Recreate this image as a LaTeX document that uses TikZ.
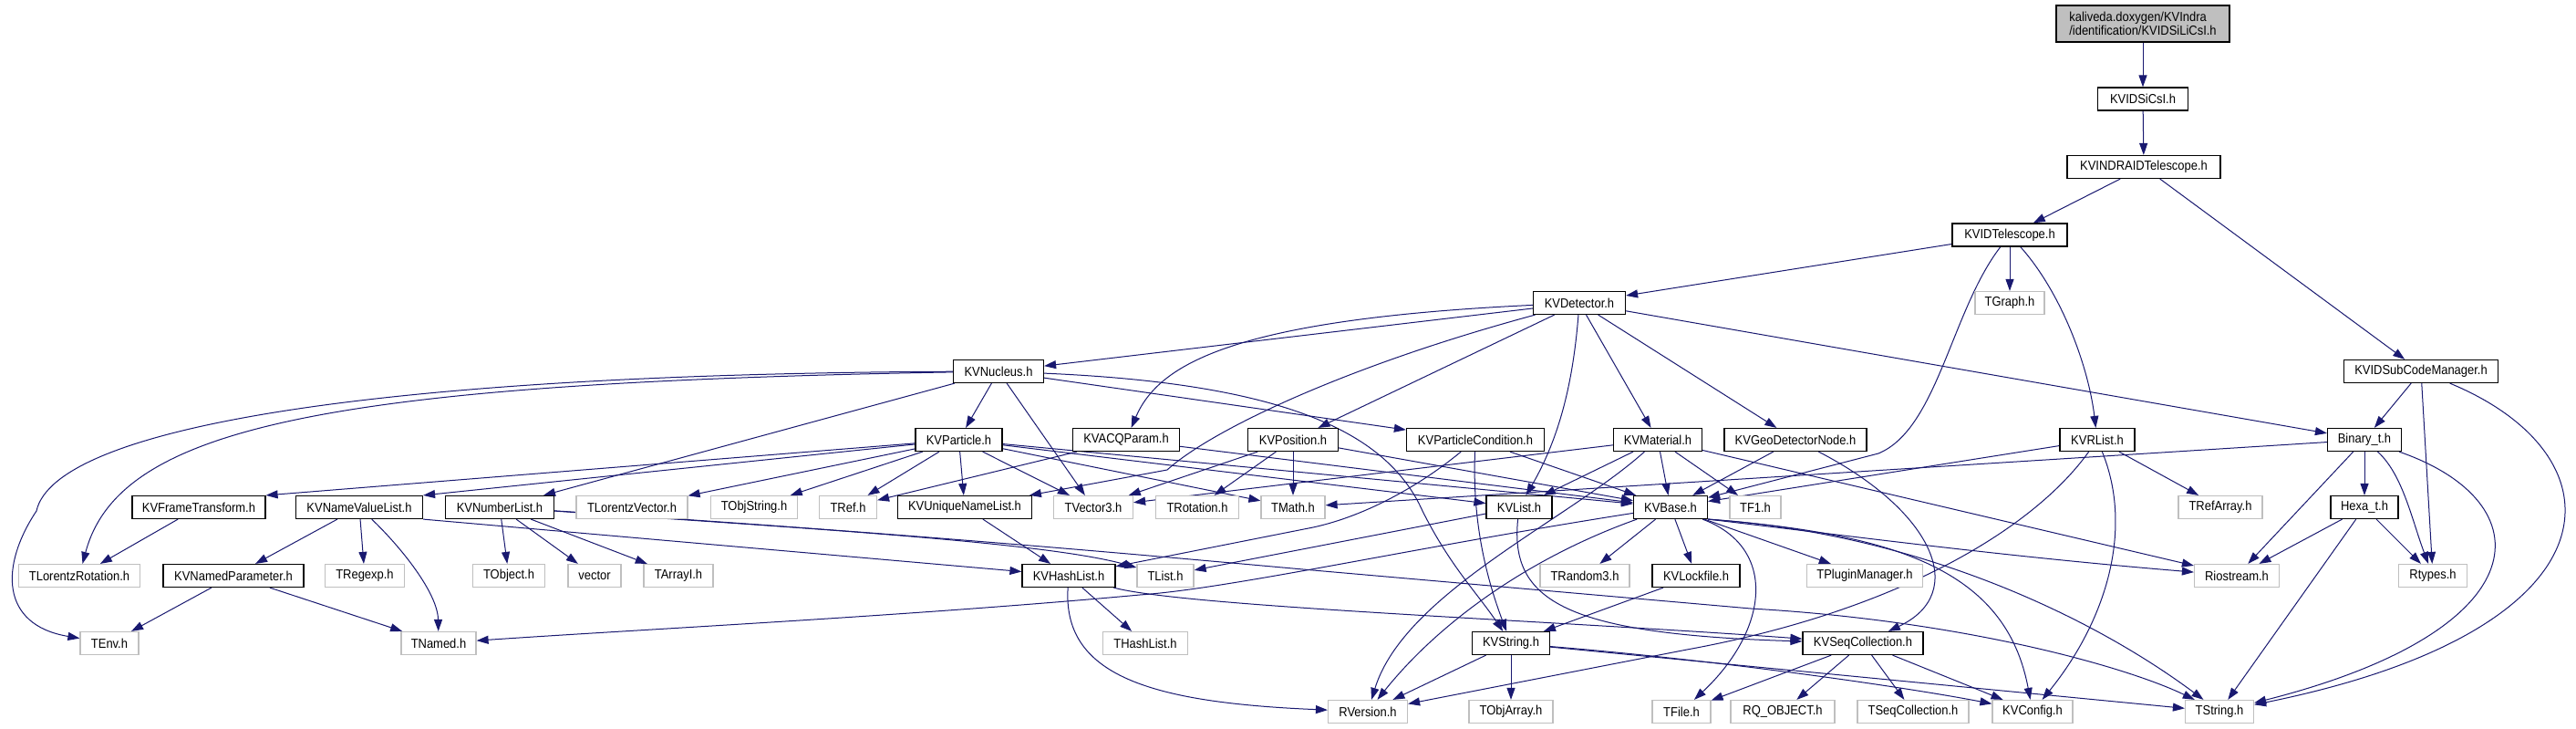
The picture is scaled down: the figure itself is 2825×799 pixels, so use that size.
\documentclass[tikz,border=0pt]{standalone}
\usepackage{fontspec}
\setmainfont{Liberation Sans}[FakeStretch=0.9]
\usetikzlibrary{arrows.meta,backgrounds}
\definecolor{edgeblue}{HTML}{191970}
\definecolor{boxgray}{HTML}{BFBFBF}
\definecolor{rootfill}{HTML}{BFBFBF}
\begin{document}
\begin{tikzpicture}[x=1pt,y=-1pt,
  box/.style={font=\fontsize{14.4}{15}\selectfont, minimum height=25pt, inner sep=0pt, fill=white, line width=1.2pt},
  docbox/.style={box, draw=black},
  extbox/.style={box, draw=boxgray},
  dep/.style={draw=edgeblue, line width=1pt, -{Triangle[length=13pt,width=9pt]}},
  w/.style={minimum width=#1pt}]
\useasboundingbox (0,0) rectangle (2825,799);

% row 0-5
\node[docbox, minimum width=190pt, minimum height=40pt, fill=rootfill, align=left] (root) at (2350,26) {kaliveda.doxygen/KVIndra\\/identification/KVIDSiLiCsI.h};
\node[docbox, w=99] (sicsi) at (2350,108.5) {KVIDSiCsI.h};
\node[docbox, w=168] (indra) at (2351,183) {KVINDRAIDTelescope.h};
\node[docbox, w=126] (idtel) at (2204,257.5) {KVIDTelescope.h};
\node[docbox, w=101] (det) at (1732,332) {KVDetector.h};
\node[extbox, w=76] (tgraph) at (2204,332) {TGraph.h};
\node[docbox, w=99] (nuc) at (1095,407) {KVNucleus.h};
\node[docbox, w=169] (subcode) at (2655,407) {KVIDSubCodeManager.h};
% row 6
\node[docbox, w=95] (part) at (1051.5,482) {KVParticle.h};
\node[docbox, w=117] (acq) at (1235,482) {KVACQParam.h};
\node[docbox, w=99] (pos) at (1418,482) {KVPosition.h};
\node[docbox, w=151] (pcond) at (1618,482) {KVParticleCondition.h};
\node[docbox, w=97] (mat) at (1818,482) {KVMaterial.h};
\node[docbox, w=156] (geo) at (1969,482) {KVGeoDetectorNode.h};
\node[docbox, w=82] (rlist) at (2300,482) {KVRList.h};
\node[docbox, w=81] (bin) at (2593,482) {Binary\_t.h};
% row 7
\node[docbox, w=146] (frame) at (218,556) {KVFrameTransform.h};
\node[docbox, w=139] (nvl) at (394,556) {KVNameValueList.h};
\node[docbox, w=119] (numl) at (548,556) {KVNumberList.h};
\node[extbox, w=122] (tlv) at (693,556) {TLorentzVector.h};
\node[extbox, w=95] (tobjs) at (827,556) {TObjString.h};
\node[extbox, w=63] (tref) at (930,556) {TRef.h};
\node[docbox, w=147] (uniq) at (1058,556) {KVUniqueNameList.h};
\node[extbox, w=87] (tv3) at (1199,556) {TVector3.h};
\node[extbox, w=91] (trot) at (1313,556) {TRotation.h};
\node[extbox, w=70] (tmath) at (1418,556) {TMath.h};
\node[docbox, w=72] (kvlist) at (1666,556) {KVList.h};
\node[docbox, w=81] (base) at (1832,556) {KVBase.h};
\node[extbox, w=56] (tf1) at (1925,556) {TF1.h};
\node[extbox, w=92] (trefarr) at (2435,556) {TRefArray.h};
\node[docbox, w=74] (hexa) at (2593,556) {Hexa\_t.h};
% row 8
\node[extbox, w=133] (tlr) at (87,631) {TLorentzRotation.h};
\node[docbox, w=154] (named) at (256,631) {KVNamedParameter.h};
\node[extbox, w=87] (tregexp) at (400,631) {TRegexp.h};
\node[extbox, w=79] (tobject) at (558,631) {TObject.h};
\node[extbox, w=58] (vector) at (652,631) {vector};
\node[extbox, w=76] (tarrayi) at (744,631) {TArrayI.h};
\node[docbox, w=102] (hash) at (1172,631) {KVHashList.h};
\node[extbox, w=62] (tlist) at (1278,631) {TList.h};
\node[extbox, w=98] (trand) at (1738,631) {TRandom3.h};
\node[docbox, w=96] (lock) at (1860,631) {KVLockfile.h};
\node[extbox, w=127] (tplug) at (2045,631) {TPluginManager.h};
\node[extbox, w=93] (rio) at (2453,631) {Riostream.h};
\node[extbox, w=75] (rtypes) at (2668,631) {Rtypes.h};
% row 9
\node[extbox, w=64] (tenv) at (120,705) {TEnv.h};
\node[extbox, w=82] (tnamed) at (481,705) {TNamed.h};
\node[extbox, w=93] (thash) at (1256,705) {THashList.h};
\node[docbox, w=85] (kvstr) at (1657,705) {KVString.h};
\node[docbox, w=132] (seqc) at (2043,705) {KVSeqCollection.h};
% row 10
\node[extbox, w=87] (rver) at (1500,780) {RVersion.h};
\node[extbox, w=92] (tobjarr) at (1657,780) {TObjArray.h};
\node[extbox, w=64] (tfile) at (1844,780) {TFile.h};
\node[extbox, w=114] (rqobj) at (1955,780) {RQ\_OBJECT.h};
\node[extbox, w=122] (tseqc) at (2098,780) {TSeqCollection.h};
\node[extbox, w=88] (kvconf) at (2229,780) {KVConfig.h};
\node[extbox, w=75] (tstring) at (2434,780) {TString.h};

\begin{scope}[on background layer]
\fill[white] (0,0) rectangle (2825,799);
\draw[dep] (root) -- (sicsi);
\draw[dep] (sicsi) -- (indra);
\draw[dep] (indra) -- (idtel);
\draw[dep] (indra) -- (subcode);
\draw[dep] (idtel) -- (det);
\draw[dep] (idtel) -- (tgraph);
\draw[dep] (idtel) .. controls (2260,320) and (2290,400) .. (rlist);
\draw[dep] (idtel) .. controls (2140,340) and (2125,470) .. (2060,497) -- (base);
\draw[dep] (subcode) -- (bin);
\draw[dep] (subcode) -- (rtypes);
\draw[dep] (subcode) .. controls (2880,500) and (2880,690) .. (tstring);
\draw[dep] (det) -- (nuc);
\draw[dep] (det) .. controls (1350,350) and (1270,400) .. (acq);
\draw[dep] (det) .. controls (1480,400) and (1330,470) .. (1280,515) -- (uniq);
\draw[dep] (det) -- (pos);
\draw[dep] (det) .. controls (1725,420) and (1710,480) .. (kvlist);
\draw[dep] (det) -- (mat);
\draw[dep] (det) -- (geo);
\draw[dep] (det) -- (bin);
\draw[dep] (nuc) .. controls (400,410) and (60,470) .. (40,560) .. controls (0,620) and (0,685) .. (tenv);
\draw[dep] (nuc) .. controls (350,420) and (130,470) .. (tlr);
\draw[dep] (nuc) -- (part);
\draw[dep] (nuc) -- (tv3);
\draw[dep] (nuc) -- (numl);
\draw[dep] (nuc) .. controls (1400,420) and (1520,470) .. (1560,560) .. controls (1590,620) and (1620,650) .. (kvstr);
\draw[dep] (nuc) -- (pcond);
\draw[dep] (part) -- (frame.north east);
\draw[dep] (part) -- (nvl.north east);
\draw[dep] (part) -- (tlv);
\draw[dep] (part) -- (tobjs);
\draw[dep] (part) -- (tref);
\draw[dep] (part) -- (uniq);
\draw[dep] (part) -- (tv3);
\draw[dep] (part) -- (tmath);
\draw[dep] (part) -- (kvlist);
\draw[dep] (part) -- (base);
\draw[dep] (acq) -- (tref);
\draw[dep] (acq) -- (base);
\draw[dep] (pos) -- (tv3);
\draw[dep] (pos) -- (trot);
\draw[dep] (pos) -- (tmath);
\draw[dep] (pos) -- (base);
\draw[dep] (pcond) .. controls (1560,530) and (1500,565) .. (1440,578) -- (hash);
\draw[dep] (pcond) .. controls (1615,560) and (1625,620) .. (kvstr);
\draw[dep] (pcond) -- (base);
\draw[dep] (mat) -- (tv3);
\draw[dep] (mat) -- (kvlist);
\draw[dep] (mat) -- (base);
\draw[dep] (mat) .. controls (1720,570) and (1540,650) .. (rver);
\draw[dep] (mat) -- (tf1);
\draw[dep] (mat) -- (rio);
\draw[dep] (geo) -- (base);
\draw[dep] (geo) .. controls (2120,560) and (2160,650) .. (seqc);
\draw[dep] (rlist) -- (base);
\draw[dep] (rlist) .. controls (2230,580) and (2080,670) .. (1850,712) -- (rver);
\draw[dep] (rlist) .. controls (2340,580) and (2310,680) .. (kvconf);
\draw[dep] (rlist) -- (trefarr);
\draw[dep] (bin) -- (tmath);
\draw[dep] (bin) -- (hexa);
\draw[dep] (bin) -- (rio);
\draw[dep] (bin) .. controls (2635,520) and (2645,570) .. (rtypes);
\draw[dep] (bin) .. controls (2790,550) and (2790,690) .. (tstring);
\draw[dep] (hexa) -- (rio);
\draw[dep] (hexa) -- (rtypes);
\draw[dep] (hexa) -- (tstring);
\draw[dep] (frame) -- (tlr);
\draw[dep] (nvl) -- (named);
\draw[dep] (nvl) -- (tregexp);
\draw[dep] (nvl) .. controls (440,600) and (480,650) .. (tnamed);
\draw[dep] (nvl.south east) -- (hash);
\draw[dep] (numl) -- (tobject);
\draw[dep] (numl) -- (vector);
\draw[dep] (numl) -- (tarrayi);
\draw[dep] (numl) .. controls (900,580) and (1150,595) .. (tlist);
\draw[dep] (numl) .. controls (1000,585) and (1250,608) .. (1440,625) -- (1920,667) .. controls (2150,680) and (2330,730) .. (tstring);
\draw[dep] (uniq) -- (hash);
\draw[dep] (kvlist) -- (tlist);
\draw[dep] (kvlist) .. controls (1655,660) and (1720,695) .. (seqc);
\draw[dep] (base) .. controls (1550,600) and (1350,645) .. (1250,652) .. controls (1000,675) and (700,690) .. (tnamed);
\draw[dep] (base) .. controls (1680,610) and (1580,680) .. (rver);
\draw[dep] (base) -- (trand);
\draw[dep] (base) -- (lock);
\draw[dep] (base) .. controls (1950,600) and (1940,690) .. (tfile);
\draw[dep] (base) -- (tplug);
\draw[dep] (base.south east) .. controls (2050,590) and (2200,610) .. (rio);
\draw[dep] (base.south east) .. controls (2080,585) and (2200,625) .. (kvconf);
\draw[dep] (base.south east) .. controls (2110,585) and (2300,680) .. (tstring);
\draw[dep] (named) -- (tenv);
\draw[dep] (named) -- (tnamed);
\draw[dep] (hash) -- (thash);
\draw[dep] (hash) .. controls (1165,740) and (1260,770) .. (rver);
\draw[dep] (hash) .. controls (1300,665) and (1700,680) .. (seqc);
\draw[dep] (lock) -- (kvstr);
\draw[dep] (kvstr) -- (rver);
\draw[dep] (kvstr) -- (tobjarr);
\draw[dep] (kvstr) .. controls (1900,725) and (2100,755) .. (kvconf);
\draw[dep] (kvstr) -- (tstring);
\draw[dep] (seqc) -- (tfile);
\draw[dep] (seqc) -- (rqobj);
\draw[dep] (seqc) -- (tseqc);
\draw[dep] (seqc) -- (kvconf);
\end{scope}
\end{tikzpicture}
\end{document}
